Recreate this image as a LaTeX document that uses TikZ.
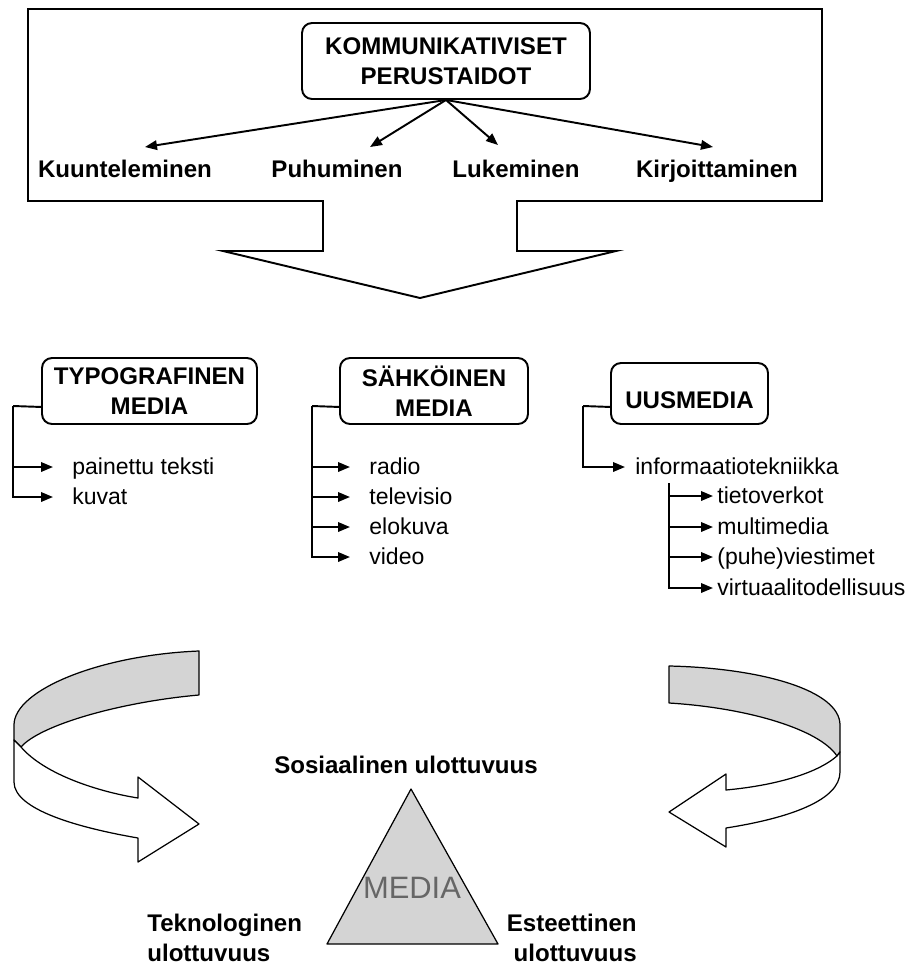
\documentclass[tikz,border=0pt]{standalone}
\usepackage{fontspec}
\setmainfont{Liberation Sans}
\usepackage{tikz}
\usetikzlibrary{arrows.meta,calc}

\begin{document}
\begin{tikzpicture}[
  x=0.02cm, y=-0.02cm,
  font=\fontsize{13.7}{17.1}\selectfont,
  >={Triangle[length=0.24cm,width=0.19cm]},
  headbox/.style={draw, line width=1.1pt, rounded corners=0.2cm,
                  align=center, inner sep=0pt,
                  font=\fontsize{13.7}{17.1}\selectfont\bfseries},
  skill/.style={inner sep=1pt, text height=0.95em, text depth=0.1em,
                font=\fontsize{13.7}{17.1}\selectfont\bfseries},
  item/.style={anchor=west, inner ysep=0pt, inner xsep=0.38cm,
               text height=0.95em, text depth=0.1em,
               font=\fontsize{13.1}{17}\selectfont},
  subitem/.style={item, inner xsep=0.08cm},
  dimlab/.style={inner sep=0pt, font=\fontsize{13.7}{17.1}\selectfont\bfseries},
  wire/.style={line width=1.1pt},
  feed/.style={->, wire},
  swirl/.style={line width=0.7pt, line join=round},
  shade/.style={fill=black!17},
]
\useasboundingbox (0,0) rectangle (917,967);

% ── top frame with the big down arrow ──────────────────────────────────────
\draw[wire] (28,9) -- (822,9) -- (822,201) -- (517,201) -- (517,251)
  -- (616,251) -- (420,298) -- (223,251) -- (323,251) -- (323,201)
  -- (28,201) -- cycle;

\node[headbox, minimum width=5.76cm, minimum height=1.52cm] (kp) at (446,61)
  {KOMMUNIKATIVISET\\PERUSTAIDOT};

\node[skill] (kuun) at (125,170) {Kuunteleminen};
\node[skill] (puhu) at (337,170) {Puhuminen};
\node[skill] (luke) at (516,170) {Lukeminen};
\node[skill] (kirj) at (717,170) {Kirjoittaminen};

\coordinate (kuun-in) at (145,147);
\coordinate (puhu-in) at (370,147);
\coordinate (luke-in) at (498,145);
\coordinate (kirj-in) at (713,147);

\draw[feed] (kp.south) -- (kuun-in);
\draw[feed] (kp.south) -- (puhu-in);
\draw[feed] (kp.south) -- (luke-in);
\draw[feed] (kp.south) -- (kirj-in);

% ── three media families ───────────────────────────────────────────────────
\node[headbox, minimum width=4.3cm, minimum height=1.32cm] (typo) at (149.5,391)
  {TYPOGRAFINEN\\MEDIA};
\node[headbox, minimum width=3.76cm, minimum height=1.32cm] (sahko) at (434,391)
  {SÄHKÖINEN\\MEDIA};
\node[headbox, minimum width=3.14cm, minimum height=1.22cm] (uus) at (689.5,393.5)
  {\mbox{}\\UUSMEDIA};

% typographic
\node[item] (paine) at (53,467) {painettu teksti};
\node[item] (kuvat) at (53,497) {kuvat};
\coordinate (typobus) at (13,406);
\draw[wire] ($(typo.south west)+(0,-18)$) -- (typobus);
\draw[feed] (typobus) |- (paine.west);
\draw[feed] (typobus) |- (kuvat.west);

% electronic
\node[item] (radio) at (350,467) {radio};
\node[item] (tv)    at (350,497) {televisio};
\node[item] (elo)   at (350,527) {elokuva};
\node[item] (video) at (350,557) {video};
\coordinate (sahkobus) at (312,406);
\draw[wire] ($(sahko.south west)+(0,-18)$) -- (sahkobus);
\foreach \n in {radio,tv,elo,video}
  \draw[feed] (sahkobus) |- (\n.west);

% new media
\node[item, inner xsep=0.2cm] (info) at (625,467) {informaatiotekniikka};
\coordinate (uusbus) at (583,406);
\draw[wire] ($(uus.south west)+(0,-18)$) -- (uusbus);
\draw[feed] (uusbus) |- (info.west);

\node[subitem] (verkot) at (713,496) {tietoverkot};
\node[subitem] (multi)  at (713,527) {multimedia};
\node[subitem] (puhev)  at (713,557) {(puhe)viestimet};
\node[subitem] (virt)   at (713,588) {virtuaalitodellisuus};
\coordinate (infobus) at (669,483);
\foreach \n in {verkot,multi,puhev,virt}
  \draw[feed] (infobus) |- (\n.west);

% ── curved arrows round the triangle ───────────────────────────────────────
% left
\filldraw[swirl, shade] (199,651) .. controls (100,655) and (14,690) .. (14,725)
  -- (14,740) -- (21,747) .. controls (40,725) and (120,702) .. (199,695) -- cycle;
\filldraw[swirl, fill=white] (14,740) -- (21,747)
  .. controls (45,775) and (100,792) .. (138,798) -- (138,777) -- (199,824)
  -- (138,862) -- (138,838) .. controls (80,828) and (14,810) .. (14,782) -- cycle;
% right
\filldraw[swirl, shade] (669,666) .. controls (760,668) and (840,690) .. (840,725)
  -- (840,752) -- (837,756) .. controls (820,730) and (750,708) .. (669,703) -- cycle;
\filldraw[swirl, fill=white] (840,752) -- (837,756)
  .. controls (815,775) and (770,786) .. (726,790) -- (726,774) -- (669,812)
  -- (726,847) -- (726,828) .. controls (790,818) and (840,800) .. (840,772) -- cycle;

% ── media triangle ─────────────────────────────────────────────────────────
\filldraw[swirl, shade] (411,789) -- (498,944) -- (327,944) -- cycle;
\node[text=black!60, font=\fontsize{17.6}{20}\selectfont] (medlab) at (412,888) {MEDIA};

\node[dimlab] (sos) at (406,765) {Sosiaalinen ulottuvuus};
\node[dimlab, anchor=west, align=left] (tekno) at (147,938)
  {Teknologinen\\ulottuvuus};
\node[dimlab, anchor=east, align=right] (este) at (637,938)
  {Esteettinen\\ulottuvuus};
\end{tikzpicture}
\end{document}
